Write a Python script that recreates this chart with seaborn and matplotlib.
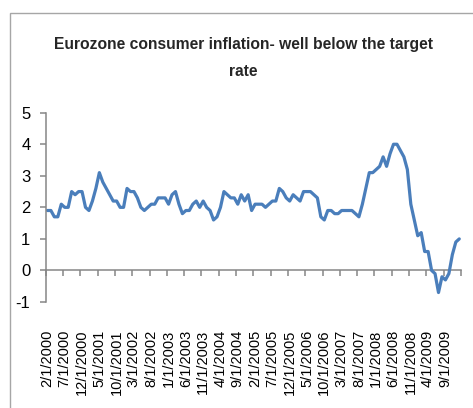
import numpy as np
import pandas as pd
import matplotlib
matplotlib.use("Agg")
import matplotlib.pyplot as plt
import seaborn as sns
from matplotlib.patches import Rectangle

# Euro area HICP, annual rate of change (%), monthly from Feb 2000 to Jan 2010
months = pd.date_range("2000-02-01", "2010-01-01", freq="MS")
rate_2000 = [1.9, 1.9, 1.7, 1.7, 2.1, 2.0, 2.0, 2.5, 2.4, 2.5, 2.5]
rate_2001 = [2.0, 1.9, 2.2, 2.6, 3.1, 2.8, 2.6, 2.4, 2.2, 2.2, 2.0, 2.0]
rate_2002 = [2.6, 2.5, 2.5, 2.3, 2.0, 1.9, 2.0, 2.1, 2.1, 2.3, 2.3, 2.3]
rate_2003 = [2.1, 2.4, 2.5, 2.1, 1.8, 1.9, 1.9, 2.1, 2.2, 2.0, 2.2, 2.0]
rate_2004 = [1.9, 1.6, 1.7, 2.0, 2.5, 2.4, 2.3, 2.3, 2.1, 2.4, 2.2, 2.4]
rate_2005 = [1.9, 2.1, 2.1, 2.1, 2.0, 2.1, 2.2, 2.2, 2.6, 2.5, 2.3, 2.2]
rate_2006 = [2.4, 2.3, 2.2, 2.5, 2.5, 2.5, 2.4, 2.3, 1.7, 1.6, 1.9, 1.9]
rate_2007 = [1.8, 1.8, 1.9, 1.9, 1.9, 1.9, 1.8, 1.7, 2.1, 2.6, 3.1, 3.1]
rate_2008 = [3.2, 3.3, 3.6, 3.3, 3.7, 4.0, 4.0, 3.8, 3.6, 3.2, 2.1, 1.6]
rate_2009 = [1.1, 1.2, 0.6, 0.6, 0.0, -0.1, -0.7, -0.2, -0.3, -0.1, 0.5, 0.9]
rate_2010 = [1.0]

tick_labels = ["2/1/2000", "7/1/2000", "12/1/2000", "5/1/2001", "10/1/2001",
               "3/1/2002", "8/1/2002", "1/1/2003", "6/1/2003", "11/1/2003",
               "4/1/2004", "9/1/2004", "2/1/2005", "7/1/2005", "12/1/2005",
               "5/1/2006", "10/1/2006", "3/1/2007", "8/1/2007", "1/1/2008",
               "6/1/2008", "11/1/2008", "4/1/2009", "9/1/2009"]
y_ticks = [-1, 0, 1, 2, 3, 4, 5]

title_lines = ["Eurozone consumer inflation- well below the target", "rate"]

rates = (rate_2000 + rate_2001 + rate_2002 + rate_2003 + rate_2004 + rate_2005
         + rate_2006 + rate_2007 + rate_2008 + rate_2009 + rate_2010)
df = pd.DataFrame({"month": months, "rate": rates})
df["pos"] = np.arange(len(df))

sns.set_theme(style="white")
plt.rcParams["font.family"] = ["Liberation Sans", "DejaVu Sans"]

W, H = 473, 408
fig = plt.figure(figsize=(W / 100, H / 100), dpi=100)
fig.patch.set_facecolor("white")

x0, x1 = 45.7, 461.0
y_top, y_bot = 112.7, 302.0
ax = fig.add_axes([x0 / W, 1 - y_bot / H, (x1 - x0) / W, (y_bot - y_top) / H])

blue = "#4a7ebb"
grey = "#868686"

sns.lineplot(data=df, x="pos", y="rate", color=blue, linewidth=2.3, ax=ax)

ax.set_xlim(-0.5, len(df) - 0.5)
ax.set_ylim(-1, 5)
ax.set_xlabel("")
ax.set_ylabel("")

for side in ["top", "right", "bottom"]:
    ax.spines[side].set_visible(False)
ax.spines["left"].set_color(grey)
ax.spines["left"].set_linewidth(1.1)

ax.set_yticks(y_ticks)
ax.set_yticklabels([str(v) for v in y_ticks])
ax.tick_params(axis="y", left=True, length=4, width=1.1, color=grey,
               direction="out", pad=7, labelsize=12, labelcolor="black")

ax.set_xticks(df["pos"].values[::5])
ax.set_xticklabels(tick_labels, rotation=90, va="top", ha="center")
ax.tick_params(axis="x", bottom=True, length=0, pad=20, labelsize=10.5,
               labelcolor="black")

# category axis crossing at zero, with marks between every fifth month
zero_axis = ax.secondary_xaxis(0, transform=ax.transData)
zero_axis.set_xticks(np.arange(-0.5, len(df), 5))
zero_axis.tick_params(axis="x", bottom=True, length=4, width=1.1, color=grey,
                      direction="out", labelbottom=False)
zero_axis.spines["bottom"].set_color(grey)
zero_axis.spines["bottom"].set_linewidth(1.1)
ax.grid(False)

# two-line title, sized so its first line spans about 380 px
renderer = fig.canvas.get_renderer()
t1 = fig.text(243 / W, 1 - 44 / H, title_lines[0], ha="center", va="center",
              fontsize=14, fontweight="bold")
width = t1.get_window_extent(renderer).width
size = 14 * 380.0 / width
t1.set_fontsize(size)
fig.text(243 / W, 1 - 72 / H, title_lines[1], ha="center", va="center",
         fontsize=size, fontweight="bold")

# chart area border
fig.patches.append(Rectangle((9.5 / W, -0.1), 1.2, 1.1 - 12.7 / H,
                             transform=fig.transFigure, fill=False,
                             edgecolor="#a6a6a6", linewidth=1.0))

fig.savefig("out.png", dpi=100)
